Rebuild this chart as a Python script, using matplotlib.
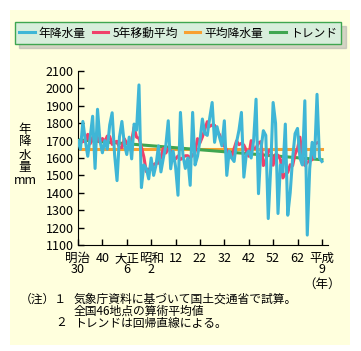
import numpy as np
import pandas as pd
import matplotlib
matplotlib.use('Agg')
import matplotlib.pyplot as plt
from matplotlib.patches import Rectangle
from matplotlib.lines import Line2D

plt.rcParams['font.family'] = ['Noto Sans CJK JP', 'DejaVu Sans']

# データ (1897=明治30 ～ 1997=平成9)
years = np.arange(1897, 1998)
precip = [
    1700, 1650, 1810, 1700, 1610, 1720, 1840, 1540, 1880, 1700,  # 1897-
    1630, 1700, 1650, 1790, 1860, 1620, 1470, 1720, 1810, 1680,  # 1907-
    1620, 1720, 1595, 1795, 1760, 2020, 1430, 1560, 1540, 1480,  # 1917-
    1600, 1500, 1560, 1670, 1520, 1600, 1670, 1814, 1538, 1640,  # 1927-
    1550, 1386, 1862, 1620, 1540, 1600, 1443, 1862, 1560, 1610,  # 1937-
    1700, 1824, 1740, 1730, 1830, 1919, 1690, 1780, 1720, 1670,  # 1947-
    1814, 1500, 1640, 1600, 1580, 1690, 1760, 1862, 1490, 1620,  # 1957-
    1640, 1600, 1700, 1938, 1395, 1650, 1757, 1730, 1252, 1540,  # 1967-
    1919, 1800, 1281, 1560, 1520, 1795, 1271, 1400, 1600, 1740,  # 1977-
    1770, 1600, 1560, 1929, 1157, 1540, 1690, 1600, 1966, 1600,  # 1987-
    1580,                                                        # 1997
]
avg_precip = 1652            # 平均降水量
trend_ends = [1705, 1590]    # トレンド (1897, 1997)

tick_years = [1897, 1907, 1917, 1927, 1937, 1947, 1957, 1967, 1977, 1987, 1997]
tick_labels = ['明治\n30', '40', '大正\n6', '昭和\n2', '12', '22', '32', '42', '52', '62', '平成\n9']

ma5 = pd.Series(precip, index=years).rolling(5, center=True).mean()

blue = '#3fb6d6'
red = '#f0406a'
orange = '#f8a030'
green = '#3fa650'

fig = plt.figure(figsize=(3.61, 3.51), dpi=100)
fig.patch.set_facecolor('white')
fig.patches.append(Rectangle((10 / 361, 1 - 345 / 351), 340 / 361, 335 / 351,
                             transform=fig.transFigure, facecolor='#ffffdd',
                             edgecolor='none', zorder=-10))

ax = fig.add_axes([78 / 361, 1 - 245 / 351, 250 / 361, 174 / 351])
ax.set_facecolor('none')

ax.plot([years[0], years[-1]], [avg_precip, avg_precip], color=orange, lw=2.2, zorder=1)
ax.plot([years[0], years[-1]], trend_ends, color=green, lw=2.2, zorder=2)
ax.plot(years, ma5, color=red, lw=2.2, zorder=3)
ax.plot(years, precip, color=blue, lw=2.2, zorder=4)

ax.set_xlim(1897, 1999.5)
ax.set_ylim(1100, 2100)
ax.set_yticks(range(1100, 2101, 100))
ax.set_xticks(tick_years)
ax.set_xticklabels(tick_labels, linespacing=0.85)
ax.tick_params(direction='in', length=4, width=1, labelsize=9)
ax.tick_params(axis='x', pad=5)
ax.tick_params(axis='y', pad=3)
for sp in ['top', 'right']:
    ax.spines[sp].set_visible(False)

fig.text(25 / 361, 1 - 155 / 351, '年\n降\n水\n量\nmm', ha='center', va='center',
         fontsize=9, linespacing=1.0)
fig.text(322 / 361, 1 - 284 / 351, '（年）', ha='center', va='center', fontsize=9)

# 注記
fs = 8.5
fig.text(20 / 361, 1 - 299 / 351, '（注）１', ha='left', va='center', fontsize=fs)
fig.text(74 / 361, 1 - 299 / 351, '気象庁資料に基づいて国土交通省で試算。', ha='left', va='center', fontsize=fs)
fig.text(74 / 361, 1 - 311 / 351, '全国46地点の算術平均値', ha='left', va='center', fontsize=fs)
fig.text(55 / 361, 1 - 323 / 351, '２', ha='left', va='center', fontsize=fs)
fig.text(74 / 361, 1 - 323 / 351, 'トレンドは回帰直線による。', ha='left', va='center', fontsize=fs)

handles = [Line2D([], [], color=c, lw=2.2) for c in [blue, red, orange, green]]
leg = fig.legend(handles, ['年降水量', '5年移動平均', '平均降水量', 'トレンド'],
                 loc='center', bbox_to_anchor=(178 / 361, 1 - 33 / 351), ncol=4,
                 fontsize=8.5, frameon=True, fancybox=False,
                 shadow={'color': '#aaaaaa', 'ox': 3, 'oy': -3},
                 handlelength=1.3, handletextpad=0.35, columnspacing=0.6,
                 borderpad=0.4, borderaxespad=0)
leg.get_frame().set_facecolor('#d8eedc')
leg.get_frame().set_edgecolor(green)
leg.get_frame().set_linewidth(1)
leg.get_frame().set_alpha(1)

fig.savefig('out.png', dpi=100)
